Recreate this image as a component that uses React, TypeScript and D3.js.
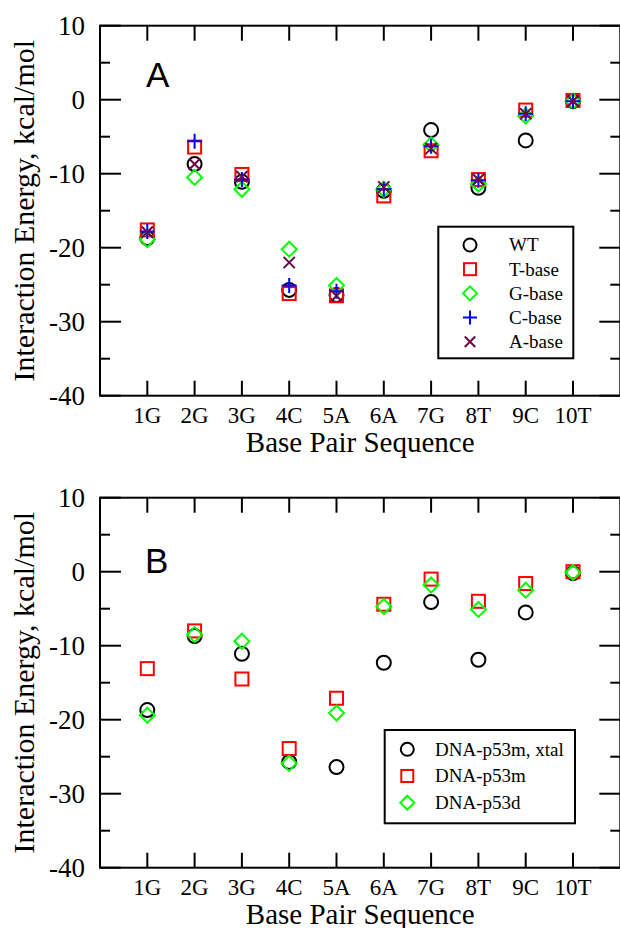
import React from "react";
import * as d3 from "d3";

// Base-pair positions along the DNA duplex
const categories = ["1G", "2G", "3G", "4C", "5A", "6A", "7G", "8T", "9C", "10T"];
const yTicks = [10, 0, -10, -20, -30, -40];
const yMinorTicks = [5, -5, -15, -25, -35];

// Panel A: interaction energy per base pair (kcal/mol)
const wt = [-18.7, -8.7, -11.1, -25.7, -26.4, -12.3, -4.1, -11.9, -5.5, -0.2];
const tBase = [-17.6, -6.4, -10.1, -26.2, -26.5, -13.0, -6.9, -10.8, -1.4, -0.1];
const gBase = [-18.9, -10.5, -12.1, -20.2, -25.1, -12.1, -6.1, -11.4, -2.2, -0.2];
const cBase = [-17.8, -5.6, -10.8, -25.1, -25.9, -12.1, -6.3, -10.9, -1.9, -0.2];
const aBase = [-17.9, -8.7, -10.4, -22.0, -26.5, -11.8, -6.6, -10.8, -1.9, -0.2];

// Panel B: crystal structure vs. monomer / dimer models
const xtal = [-18.7, -8.7, -11.1, -25.7, -26.4, -12.3, -4.1, -11.9, -5.5, -0.2];
const p53m = [-13.1, -8.0, -14.5, -23.9, -17.1, -4.4, -1.0, -4.0, -1.6, 0.0];
const p53d = [-19.4, -8.5, -9.4, -25.9, -19.1, -4.7, -1.8, -5.1, -2.5, -0.1];

type Shape = "circle" | "square" | "diamond" | "plus" | "cross";

interface Series {
  name: string;
  values: number[];
  shape: Shape;
  color: string;
}

const seriesA: Series[] = [
  { name: "WT", values: wt, shape: "circle", color: "#000000" },
  { name: "T-base", values: tBase, shape: "square", color: "#ff0000" },
  { name: "G-base", values: gBase, shape: "diamond", color: "#00ff00" },
  { name: "C-base", values: cBase, shape: "plus", color: "#0000ff" },
  { name: "A-base", values: aBase, shape: "cross", color: "#670748" },
];

const seriesB: Series[] = [
  { name: "DNA-p53m, xtal", values: xtal, shape: "circle", color: "#000000" },
  { name: "DNA-p53m", values: p53m, shape: "square", color: "#ff0000" },
  { name: "DNA-p53d", values: p53d, shape: "diamond", color: "#00ff00" },
];

const W = 620;
const H = 928;
const LEFT = 100;
const RIGHT = 620.3;
const serif = "'Liberation Serif', 'Times New Roman', serif";
const sans = "'Liberation Sans', Arial, sans-serif";

function Marker({ shape, cx, cy, size, color }: { shape: Shape; cx: number; cy: number; size: number; color: string }) {
  const h = size / 2;
  const common = { fill: "none", stroke: color, strokeWidth: 2 };
  switch (shape) {
    case "circle":
      return <circle cx={cx} cy={cy} r={h - 0.5} {...common} />;
    case "square":
      return <rect x={cx - h + 1} y={cy - h + 1} width={size - 2} height={size - 2} {...common} />;
    case "diamond":
      return <path d={`M${cx},${cy - h}L${cx + h},${cy}L${cx},${cy + h}L${cx - h},${cy}Z`} {...common} />;
    case "plus":
      return <path d={`M${cx - h},${cy}H${cx + h}M${cx},${cy - h}V${cy + h}`} {...common} />;
    case "cross": {
      const k = h * 0.75;
      return <path d={`M${cx - k},${cy - k}L${cx + k},${cy + k}M${cx - k},${cy + k}L${cx + k},${cy - k}`} {...common} />;
    }
  }
}

interface PanelProps {
  top: number;
  bottom: number;
  series: Series[];
  letter: string;
  letterX: number;
  letterY: number;
  legend: { x: number; y: number; w: number; h: number; symX: number; textX: number; firstRow: number; rowStep: number };
}

function Panel({ top, bottom, series, letter, letterX, letterY, legend }: PanelProps) {
  const x = d3.scaleLinear().domain([0, 11]).range([LEFT, RIGHT]);
  const y = d3.scaleLinear().domain([-40, 10]).range([bottom, top]);
  const midY = (top + bottom) / 2;

  return (
    <g>
      {/* y ticks, left and right */}
      {yTicks.map((t) => (
        <g key={`yt${t}`}>
          <line x1={LEFT} x2={LEFT + 21} y1={y(t)} y2={y(t)} stroke="#000" strokeWidth={2} />
          <line x1={RIGHT - 21} x2={RIGHT} y1={y(t)} y2={y(t)} stroke="#000" strokeWidth={2} />
          <text x={LEFT - 15} y={y(t)} dy="0.34em" textAnchor="end" fontFamily={serif} fontSize={27}>
            {t}
          </text>
        </g>
      ))}
      {yMinorTicks.map((t) => (
        <g key={`ym${t}`}>
          <line x1={LEFT} x2={LEFT + 10} y1={y(t)} y2={y(t)} stroke="#000" strokeWidth={2} />
          <line x1={RIGHT - 10} x2={RIGHT} y1={y(t)} y2={y(t)} stroke="#000" strokeWidth={2} />
        </g>
      ))}
      {/* x ticks, bottom and top */}
      {categories.map((c, i) => (
        <g key={`xt${c}`}>
          <line x1={x(i + 1)} x2={x(i + 1)} y1={bottom} y2={bottom - 15} stroke="#000" strokeWidth={2} />
          <line x1={x(i + 1)} x2={x(i + 1)} y1={top} y2={top + 15} stroke="#000" strokeWidth={2} />
          <text x={x(i + 1)} y={bottom + 27} textAnchor="middle" fontFamily={serif} fontSize={23}>
            {c}
          </text>
        </g>
      ))}
      {/* frame */}
      <rect x={LEFT} y={top} width={RIGHT - LEFT} height={bottom - top} fill="none" stroke="#000" strokeWidth={2} />

      <text x={(LEFT + RIGHT) / 2} y={bottom + 56} textAnchor="middle" fontFamily={serif} fontSize={29}>
        Base Pair Sequence
      </text>
      <text
        transform={`translate(34,${midY}) rotate(-90)`}
        textAnchor="middle"
        fontFamily={serif}
        fontSize={30}
      >
        Interaction Energy, kcal/mol
      </text>

      <text x={letterX} y={letterY} fontFamily={sans} fontSize={35}>
        {letter}
      </text>

      {/* data markers */}
      {series.map((s) => (
        <g key={s.name}>
          {s.values.map((v, i) => (
            <Marker key={i} shape={s.shape} cx={x(i + 1)} cy={y(v)} size={15} color={s.color} />
          ))}
        </g>
      ))}

      {/* legend */}
      <rect x={legend.x} y={legend.y} width={legend.w} height={legend.h} fill="#fff" stroke="#000" strokeWidth={2} />
      {series.map((s, i) => {
        const ry = legend.firstRow + i * legend.rowStep;
        return (
          <g key={`lg${s.name}`}>
            <Marker shape={s.shape} cx={legend.symX} cy={ry} size={14} color={s.color} />
            <text x={legend.textX} y={ry} dy="0.34em" fontFamily={serif} fontSize={19}>
              {s.name}
            </text>
          </g>
        );
      })}
    </g>
  );
}

export default function App() {
  return (
    <svg width={W} height={H} style={{ position: "absolute", left: 0, top: 0, background: "#fff" }}>
      <rect width={W} height={H} fill="#fff" />
      <Panel
        top={25.7}
        bottom={395.7}
        series={seriesA}
        letter="A"
        letterX={146}
        letterY={87}
        legend={{ x: 438.3, y: 226.7, w: 135, h: 131.6, symX: 470, textX: 509, firstRow: 245, rowStep: 24.2 }}
      />
      <Panel
        top={497.7}
        bottom={867.7}
        series={seriesB}
        letter="B"
        letterX={145}
        letterY={572.5}
        legend={{ x: 384.7, y: 730, w: 190.3, h: 93.3, symX: 407.3, textX: 435, firstRow: 749.3, rowStep: 26.7 }}
      />
    </svg>
  );
}
